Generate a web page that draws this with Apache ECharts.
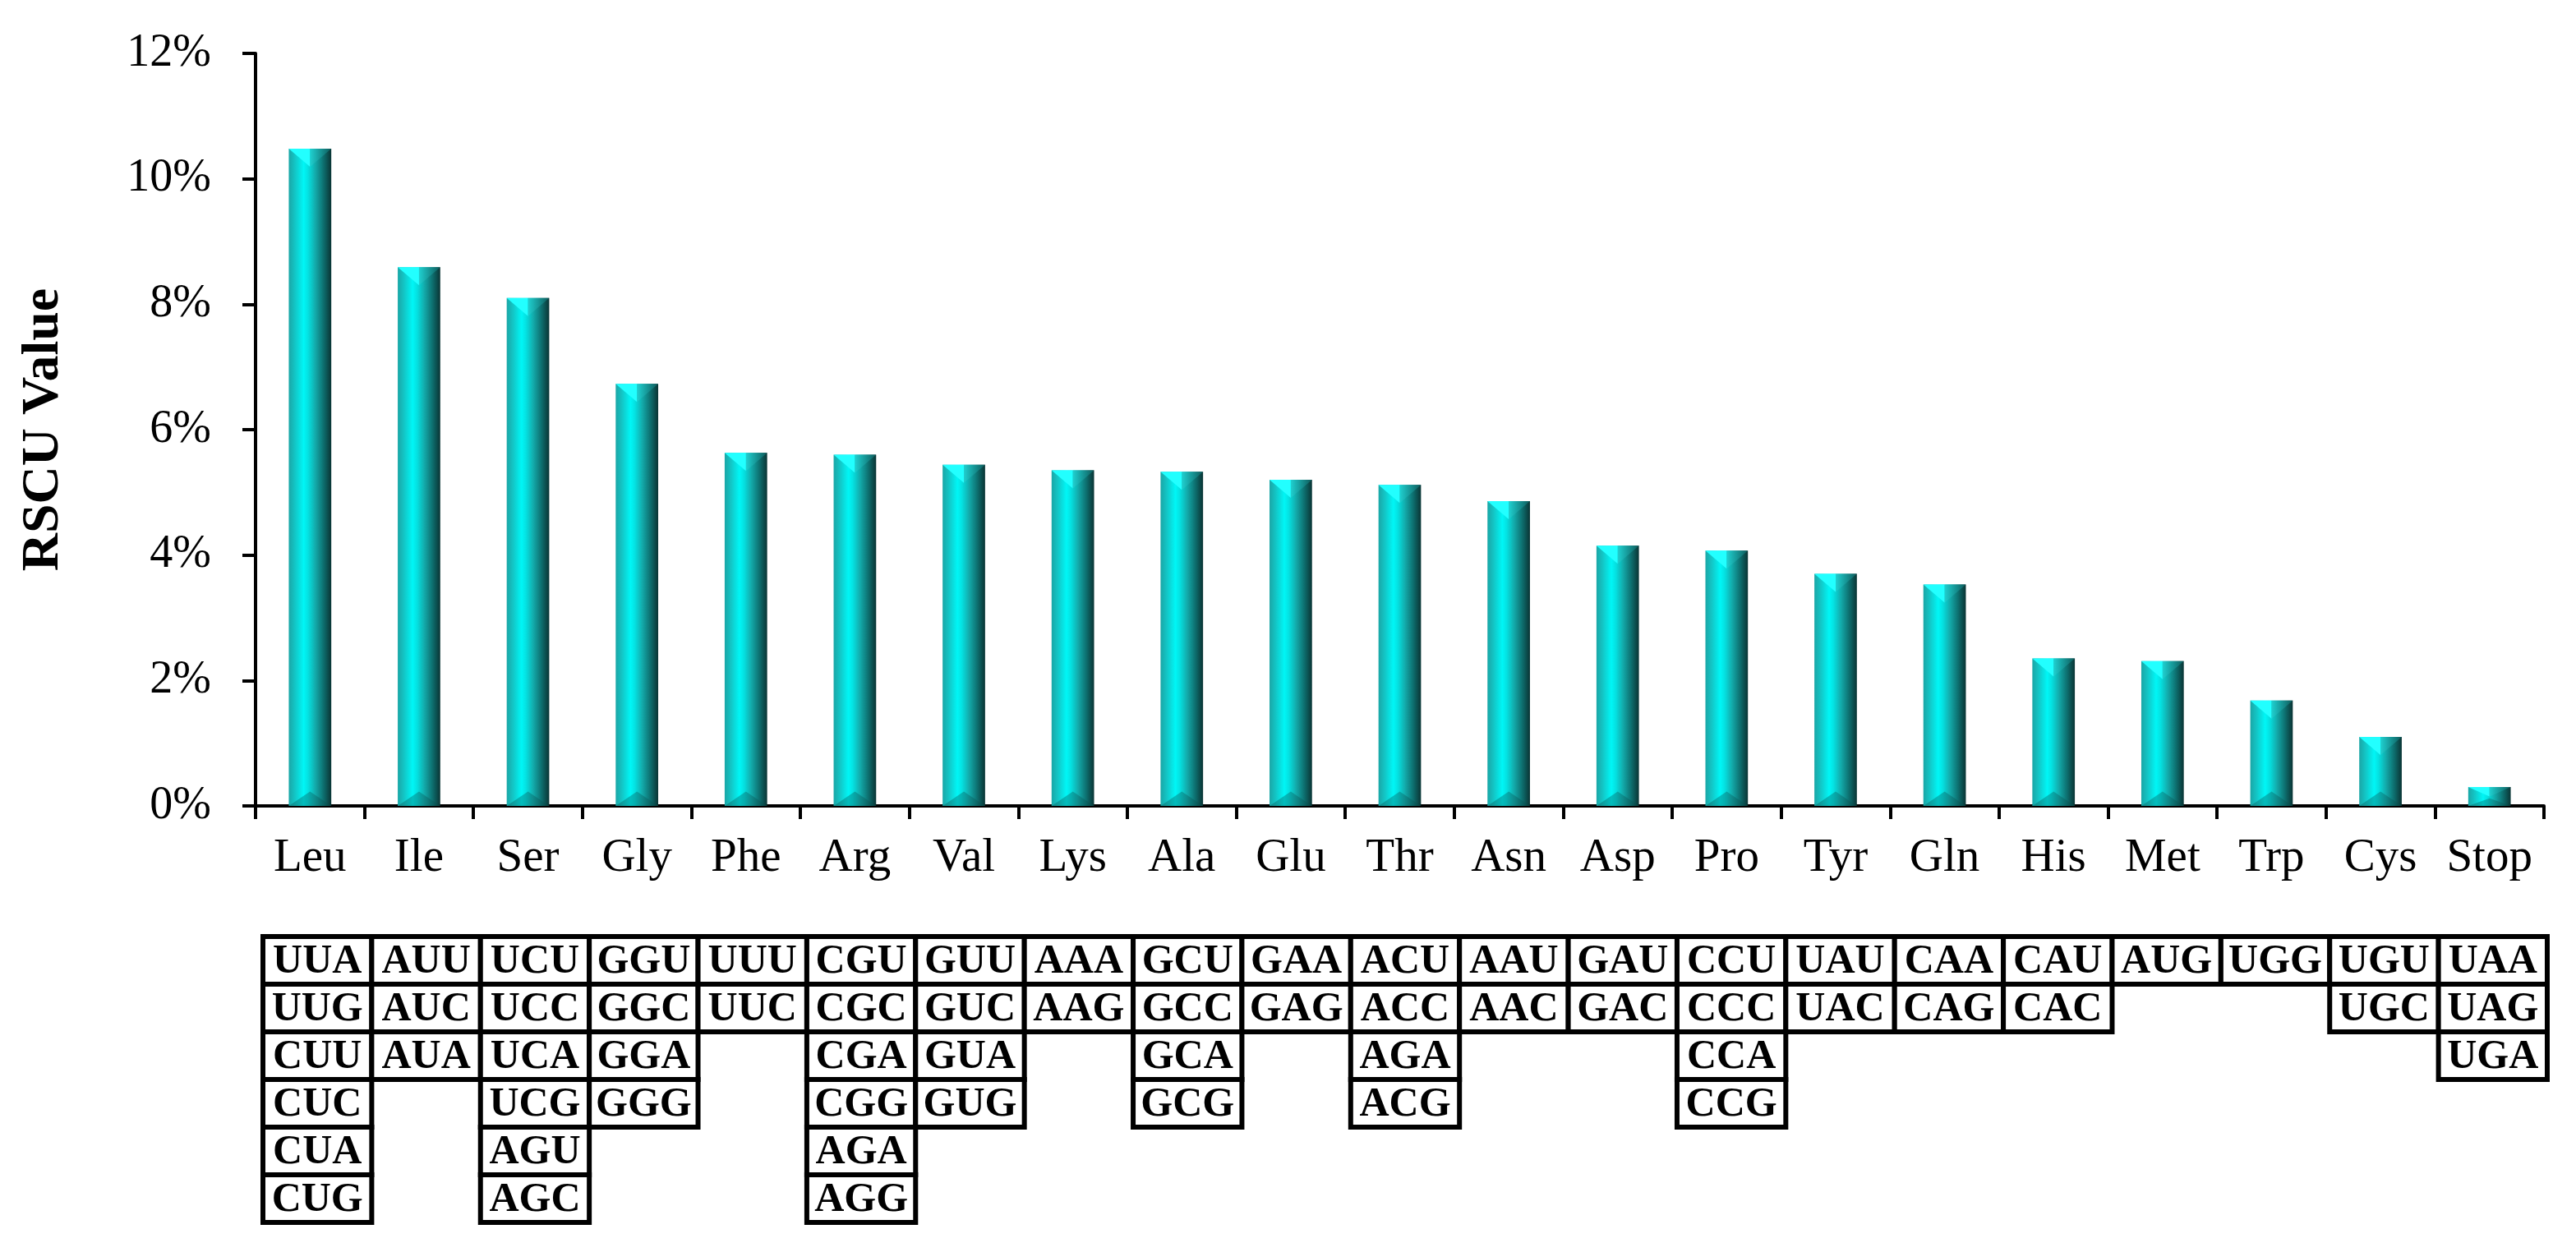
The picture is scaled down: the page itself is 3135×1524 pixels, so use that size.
<!DOCTYPE html>
<html>
<head>
<meta charset="utf-8">
<script src="https://cdn.jsdelivr.net/npm/echarts@6/dist/echarts.min.js"></script>
<style>
  html, body { margin: 0; padding: 0; background: #ffffff; }
  #chart { width: 3135px; height: 1524px; }
</style>
</head>
<body>
<div id="chart"></div>
<script>
// ---- data ----
const aminoAcids = ['Leu','Ile','Ser','Gly','Phe','Arg','Val','Lys','Ala','Glu','Thr','Asn','Asp','Pro','Tyr','Gln','His','Met','Trp','Cys','Stop'];
const rscuValues = [10.48, 8.59, 8.10, 6.73, 5.63, 5.60, 5.44, 5.35, 5.33, 5.20, 5.12, 4.86, 4.15, 4.07, 3.70, 3.53, 2.35, 2.31, 1.68, 1.10, 0.30];
const yTicks = { min: 0, max: 12, interval: 2 };
const codons = [
  ['UUA','UUG','CUU','CUC','CUA','CUG'],
  ['AUU','AUC','AUA'],
  ['UCU','UCC','UCA','UCG','AGU','AGC'],
  ['GGU','GGC','GGA','GGG'],
  ['UUU','UUC'],
  ['CGU','CGC','CGA','CGG','AGA','AGG'],
  ['GUU','GUC','GUA','GUG'],
  ['AAA','AAG'],
  ['GCU','GCC','GCA','GCG'],
  ['GAA','GAG'],
  ['ACU','ACC','AGA','ACG'],
  ['AAU','AAC'],
  ['GAU','GAC'],
  ['CCU','CCC','CCA','CCG'],
  ['UAU','UAC'],
  ['CAA','CAG'],
  ['CAU','CAC'],
  ['AUG'],
  ['UGG'],
  ['UGU','UGC'],
  ['UAA','UAG','UGA']
];
const tableRows = ['1','2','3','4','5','6'];

// ---- build series data ----
const barData = rscuValues.map((v, i) => [i, v]);
const cellData = [];
codons.forEach((list, i) => list.forEach((c, j) => cellData.push([i, j, c])));

const serif = '"Liberation Serif", "Times New Roman", serif';

const chart = echarts.init(document.getElementById('chart'), null, { renderer: 'canvas' });

function renderBar(params, api) {
  const i = api.value(0), v = api.value(1);
  const top = api.coord([i, v]);
  const base = api.coord([i, 0]);
  const bw = api.size([1, 0])[0] * 0.39;
  const xc = top[0], x0 = xc - bw / 2, x1 = xc + bw / 2;
  const h = base[1] - top[1];
  const d = Math.min(22, h * 0.5);
  const grad = new echarts.graphic.LinearGradient(0, 0, 1, 0, [
    { offset: 0, color: '#1aa6a6' },
    { offset: 0.15, color: '#13c6c6' },
    { offset: 0.35, color: '#00f6f6' },
    { offset: 0.45, color: '#04e2e2' },
    { offset: 0.62, color: '#13acac' },
    { offset: 0.82, color: '#0d6e6e' },
    { offset: 1, color: '#0a3434' }
  ]);
  return {
    type: 'group',
    children: [
      { type: 'rect', shape: { x: x0, y: top[1], width: bw, height: h }, style: { fill: grad } },
      { type: 'polygon', shape: { points: [[x0, top[1]], [xc, top[1]], [xc, top[1] + d]] }, style: { fill: '#22ffff' } },
      { type: 'polygon', shape: { points: [[xc, top[1]], [x1, top[1]], [xc, top[1] + d]] },
        style: { fill: new echarts.graphic.LinearGradient(0, 0, 1, 0, [
          { offset: 0, color: '#1fd0d0' }, { offset: 1, color: '#0d5a5a' }]) } },
      { type: 'polygon', shape: { points: [[x0, base[1]], [xc, base[1] - d * 0.8], [x1, base[1]]] }, style: { fill: 'rgba(8,80,80,0.35)' } }
    ]
  };
}

function renderCell(params, api) {
  const c = api.coord([api.value(0), api.value(1)]);
  const s = api.size([1, 1]);
  const label = codons[api.value(0)][api.value(1)];
  return {
    type: 'group',
    children: [
      { type: 'rect', shape: { x: c[0] - s[0] / 2, y: c[1] - s[1] / 2, width: s[0], height: s[1] },
        style: { fill: '#ffffff', stroke: '#000000', lineWidth: 6 } },
      { type: 'text', style: { x: c[0], y: c[1] + 2, text: label, align: 'center', verticalAlign: 'middle',
        font: 'bold 50px ' + serif, fill: '#000000' } }
    ]
  };
}

const option = {
  backgroundColor: '#ffffff',
  animation: false,
  grid: [
    { left: 311, right: 39, top: 65, bottom: 543, containLabel: false },
    { left: 320, right: 35, top: 1140, bottom: 36, containLabel: false }
  ],
  xAxis: [
    {
      type: 'category', gridIndex: 0, data: aminoAcids, boundaryGap: true,
      axisLine: { lineStyle: { color: '#000', width: 4 } },
      axisTick: { show: true, length: 16, interval: 0, lineStyle: { color: '#000', width: 4 } },
      axisLabel: { color: '#000', fontFamily: serif, fontSize: 57, margin: 36, interval: 0 }
    },
    {
      type: 'category', gridIndex: 1, data: aminoAcids, boundaryGap: true, show: false
    }
  ],
  yAxis: [
    {
      type: 'value', gridIndex: 0, min: yTicks.min, max: yTicks.max, interval: yTicks.interval,
      name: 'RSCU Value', nameLocation: 'middle', nameGap: 226,
      nameTextStyle: { color: '#000', fontFamily: serif, fontWeight: 'bold', fontSize: 64 },
      axisLine: { show: true, lineStyle: { color: '#000', width: 4 } },
      axisTick: { show: true, length: 16, lineStyle: { color: '#000', width: 4 } },
      splitLine: { show: false },
      axisLabel: { color: '#000', fontFamily: serif, fontSize: 56, margin: 54, formatter: '{value}%' }
    },
    {
      type: 'category', gridIndex: 1, data: tableRows, inverse: true, show: false
    }
  ],
  series: [
    {
      type: 'custom', xAxisIndex: 0, yAxisIndex: 0, data: barData, renderItem: renderBar,
      encode: { x: 0, y: 1 }, clip: false
    },
    {
      type: 'custom', xAxisIndex: 1, yAxisIndex: 1, data: cellData, renderItem: renderCell,
      encode: { x: 0, y: 1 }, clip: false
    }
  ]
};
chart.setOption(option);
</script>
</body>
</html>
